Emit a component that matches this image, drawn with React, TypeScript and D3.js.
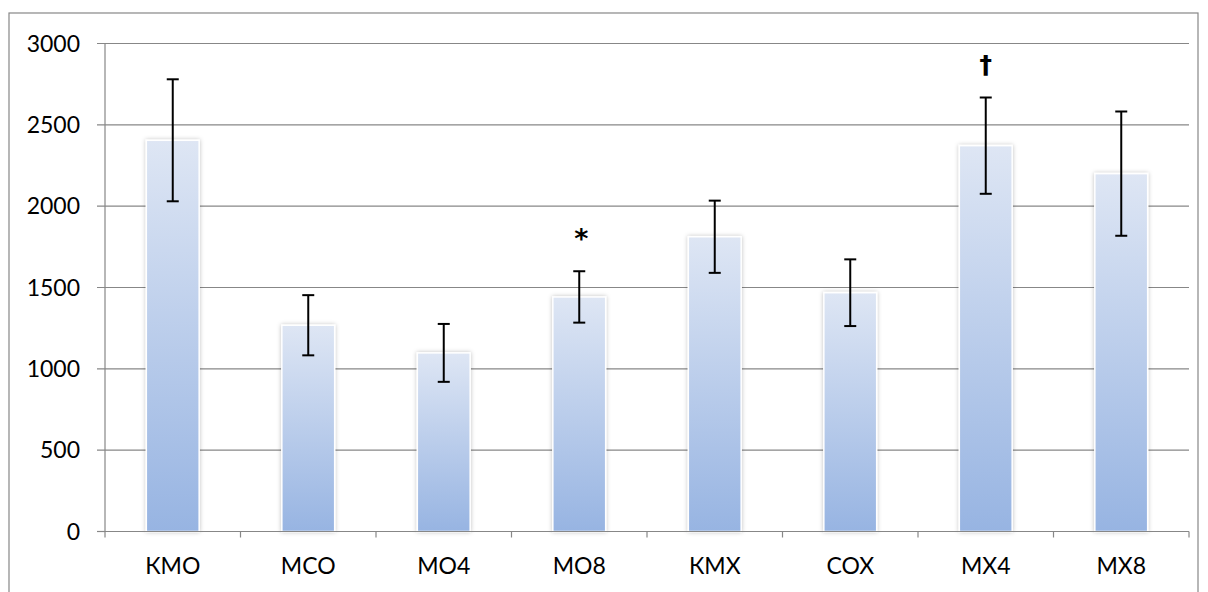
import React from 'react';
import * as d3 from 'd3';

const categories = ['КМО', 'МСО', 'МО4', 'МО8', 'КМХ', 'СОХ', 'МХ4', 'МХ8'];
const means = [2405, 1268, 1098, 1442, 1812, 1468, 2372, 2200];
const errors = [375, 185, 178, 158, 222, 205, 296, 382];
const yTicks = [0, 500, 1000, 1500, 2000, 2500, 3000];
const marks = ['', '', '', '*', '', '', '†', ''];

const W = 1208;
const H = 592;
const margin = { top: 43.5, right: 19, bottom: 60.5, left: 105 };
const FONT = 'Lato, "Open Sans", sans-serif';
const GRID = '#878787';

export default function App() {
  const plotW = W - margin.left - margin.right;
  const plotH = H - margin.top - margin.bottom;

  const x = d3.scaleBand<string>().domain(categories).range([0, plotW]).paddingInner(0).paddingOuter(0);
  const y = d3.scaleLinear().domain([0, 3000]).range([plotH, 0]);

  const bw = x.bandwidth() * 0.39;
  const cap = 6;

  return (
    <svg width={W} height={H} style={{ position: 'absolute', left: 0, top: 0, background: '#fff' }}>
      <defs>
        <linearGradient id="barFill" x1="0" y1="0" x2="0" y2="1">
          <stop offset="0%" stopColor="#dee6f4" />
          <stop offset="100%" stopColor="#97b4e2" />
        </linearGradient>
        <filter id="shadow" x="-30%" y="-10%" width="160%" height="120%">
          <feDropShadow dx="0" dy="0" stdDeviation="2" floodColor="#000" floodOpacity="0.25" />
        </filter>
      </defs>

      {/* outer chart border */}
      <rect x={9} y={13} width={1189} height={600} fill="none" stroke={GRID} strokeWidth={1.2} />

      <g transform={`translate(${margin.left},${margin.top})`}>
        {/* gridlines + y ticks */}
        {yTicks.map(t => (
          <g key={t}>
            {t > 0 && (
              <line x1={-8} x2={plotW} y1={y(t)} y2={y(t)} stroke={GRID} strokeWidth={1.2} />
            )}
            <text x={-25} y={y(t)} dy="0.36em" textAnchor="end" fontFamily={FONT} fontSize={23} fill="#000">
              {t}
            </text>
            {t === 0 && <line x1={-8} x2={0} y1={y(t)} y2={y(t)} stroke={GRID} strokeWidth={1.2} />}
          </g>
        ))}

        {/* bars */}
        {categories.map((c, i) => {
          const cx = (x(c) as number) + x.bandwidth() / 2;
          return (
            <rect
              key={c}
              x={cx - bw / 2}
              y={y(means[i])}
              width={bw}
              height={plotH - y(means[i])}
              fill="url(#barFill)"
              stroke="#fff"
              strokeWidth={1.5}
              filter="url(#shadow)"
            />
          );
        })}

        {/* axes */}
        <line x1={0} x2={0} y1={0} y2={plotH} stroke={GRID} strokeWidth={1.2} />
        <line x1={0} x2={plotW} y1={plotH} y2={plotH} stroke={GRID} strokeWidth={1.2} />
        {d3.range(categories.length + 1).map(k => (
          <line key={k} x1={k * x.step()} x2={k * x.step()} y1={plotH} y2={plotH + 6} stroke={GRID} strokeWidth={1.2} />
        ))}

        {/* error bars */}
        {categories.map((c, i) => {
          const cx = (x(c) as number) + x.bandwidth() / 2;
          const hi = y(means[i] + errors[i]);
          const lo = y(means[i] - errors[i]);
          return (
            <g key={c} stroke="#000" strokeWidth={2}>
              <line x1={cx} x2={cx} y1={hi} y2={lo} />
              <line x1={cx - cap} x2={cx + cap} y1={hi} y2={hi} />
              <line x1={cx - cap} x2={cx + cap} y1={lo} y2={lo} />
            </g>
          );
        })}

        {/* significance marks */}
        {categories.map((c, i) => {
          if (!marks[i]) return null;
          const star = marks[i] === '*';
          const top = y(means[i] + errors[i]);
          // baseline placed so the glyph centre sits above the error cap
          const base = star ? top - 38 + 15 : top - 33 + 8;
          return (
            <text
              key={c}
              x={(x(c) as number) + x.bandwidth() / 2 + (star ? 2 : 0)}
              y={base}
              textAnchor="middle"
              fontFamily='"DejaVu Sans", sans-serif'
              fontWeight="bold"
              fontSize={star ? 27 : 25}
              fill="#000"
            >
              {marks[i]}
            </text>
          );
        })}

        {/* x labels */}
        {categories.map(c => (
          <text
            key={c}
            x={(x(c) as number) + x.bandwidth() / 2}
            y={plotH + 42.5}
            textAnchor="middle"
            fontFamily={FONT}
            fontSize={23}
            fill="#000"
          >
            {c}
          </text>
        ))}
      </g>
    </svg>
  );
}
